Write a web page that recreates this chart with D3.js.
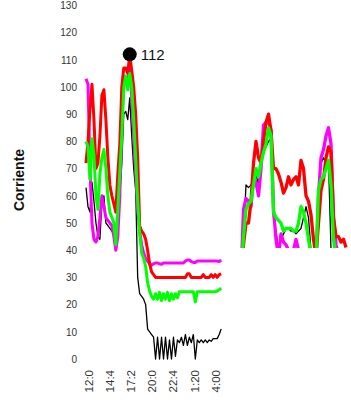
<!DOCTYPE html>
<html><head><meta charset="utf-8">
<script src="https://cdn.jsdelivr.net/npm/d3@7"></script>
<style>
body{margin:0;background:#fff;}
svg{display:block;font-family:"Liberation Sans",Arial,sans-serif;}
</style></head>
<body><svg id="c" width="351" height="405"></svg>
<script>
// ---- data ----
const yTicks = [0,10,20,30,40,50,60,70,80,90,100,110,120,130];
const xTickLabels = ["12:0","14:4","17:2","20:0","22:4","1:20","4:00"];
const stepMinutes = 15; // left panel sampling
const redLeft = [72,80,92,101,88,70,72,82,97,99,88,74,64,60,57,54,68,79,100,107,107,105,112,106,100,90,74,49,47,46,44,40,35,32,31,30,
 30,30,30,30,30,30,30,30,30,30,30,30,30,30,30,31.3,31.3,30,30,30,30,30,30,31,30,30,30,31,30,31,30,31,31.3];
const magentaLeft = [103,101,70,50,44,43,45,52,60,56,52,51,50,49,45,40,45,60,85,104,103,101,108,96,82,68,55,47,42,39,37,36,35,34.5,35,
 35.3,35.3,35,34.8,35.3,35.3,35.3,35.3,35.3,35.3,35.3,35.3,35.3,35.3,35.3,36,36.4,36.4,35.8,35.5,35.5,36,36,36,36,36,36,36,36,36,36,36,35.8,36.4];
const greenLeft = [80,78,66,81,75,60,55,68,74,77,70,60,54,52,50,42,55,69,82,100,104,99,105,100,88,74,58,46,39,37,34,28,25,23,22,
 24,22,24.5,21.5,24,22,24.5,21.5,24,22,24,22.5,24.7,24.7,24.7,24.7,24.7,24.7,24.7,24.7,21,24.7,24.7,24.7,24.7,24.7,24.7,24.7,24.7,24.7,24.7,25,25.5,26];
const blackLeft = [63,56,54,65,58,50,45,44,58,60,50,49,48,47,46,45,52,60,72,90,91,88,96,82,70,62,30,24,23,22,20,11,10,9,8,
 0,8,0,8,0,8,0,7,0,8,1,7,6,8,5,9,5,8,6,9,0,7,6,7,6,7,6,7,6.5,7.5,7.5,7.5,9,11];
const redRight = [30,42,50,50,58,72,80,74,72,80,87,90,84,70,70,68,65,61,63,67,64,66,67,64,73,70,60,58,53,44,38,50,62,66,74,78,76,52,45,45,43,44,41];
const magentaRight = [30,55,59,58,56,67,65,60,70,86,87,87,84,55,44,38,46,43,42,40,38,40,44,40,35,35,35,35,35,35,35,60,74,77,82,85,79,52,42,38,36,36,36];
const greenRight = [30,45,55,57,58,64,70,67,72,76,79,85,82,54,52,51,50,47,48,48,48,47,47,50,56,54,50,44,38,36,36,62,66,67,70,73,64,44,38,38,38,38,38];
const blackRight = [30,45,64,63,64,67,68,64,72,76,78,80,81,52,47,40,44,46,48,48,47,47,46,47,48,52,56,52,40,35,35,60,72,74,72,73,40,35,35,35,35,35,35];

// ---- scales ----
const svg = d3.select("#c");
const t0 = new Date(2020,0,1,12,0);
const addMin = (d,m)=>new Date(d.getTime()+m*60000);
const start = addMin(t0,-15);
const times = redLeft.map((_,i)=>addMin(start,i*stepMinutes));
const xTickTimes = xTickLabels.map((_,i)=>addMin(t0,i*160));
const x = d3.scaleTime().domain([t0, addMin(t0,1120)]).range([88, 88+148.4]);
const y = d3.scaleLinear().domain([0,130]).range([359,5.4]);
const xR = d3.scaleLinear().domain([0,redRight.length-1]).range([241,346]);

// ---- axes ----
const yAx = svg.append("g").attr("transform","translate(80,0)")
  .call(d3.axisLeft(y).tickValues(yTicks).tickSize(0).tickPadding(3));
yAx.select(".domain").remove();
yAx.selectAll("text").attr("font-size",10).attr("fill","#333").attr("font-family","Liberation Sans, Arial, sans-serif");

const xAx = svg.append("g").attr("transform","translate(0,365)")
  .call(d3.axisBottom(x).tickValues(xTickTimes).tickSize(0).tickFormat((d,i)=>xTickLabels[i]));
xAx.select(".domain").remove();
xAx.selectAll("text").attr("transform","rotate(-90)").attr("text-anchor","end")
  .attr("x",-5).attr("y",0).attr("dy","0.35em")
  .attr("font-size",11.5).attr("fill","#333").attr("font-family","Liberation Sans, Arial, sans-serif");

svg.append("text").attr("transform","translate(24,180) rotate(-90)")
  .attr("text-anchor","middle").attr("font-size",14).attr("font-weight","bold")
  .attr("fill","#111").text("Corriente");

// ---- lines left ----
const lineL = d3.line().x((d,i)=>x(times[i])).y(d=>y(d));
const seriesL = [[blackLeft,"#000",1.3],[magentaLeft,"#ff00ff",3],[redLeft,"#ff0000",3],[greenLeft,"#00ff00",3]];
seriesL.forEach(([data,col,w])=>{
  svg.append("path").attr("d",lineL(data)).attr("fill","none").attr("stroke",col)
    .attr("stroke-width",w).attr("stroke-linejoin","round");
});

// ---- lines right (clipped) ----
svg.append("clipPath").attr("id","clipR").append("rect")
  .attr("x",236).attr("y",0).attr("width",115).attr("height",y(40.8));
const gR = svg.append("g").attr("clip-path","url(#clipR)");
const lineR = d3.line().x((d,i)=>xR(i)).y(d=>y(d));
const seriesR = [[blackRight,"#000",1.3],[magentaRight,"#ff00ff",3.3],[redRight,"#ff0000",3.3],[greenRight,"#00ff00",3.3]];
seriesR.forEach(([data,col,w])=>{
  gR.append("path").attr("d",lineR(data)).attr("fill","none").attr("stroke",col)
    .attr("stroke-width",w).attr("stroke-linejoin","round");
});

// ---- peak marker ----
const maxI = d3.maxIndex(redLeft);
const px = x(times[maxI]), py = y(redLeft[maxI]);
svg.append("circle").attr("cx",px).attr("cy",py).attr("r",7).attr("fill","#000");
svg.append("text").attr("x",px+11).attr("y",py).attr("dy","0.35em")
  .attr("font-size",15).attr("fill","#111").text(redLeft[maxI]);
</script></body></html>
